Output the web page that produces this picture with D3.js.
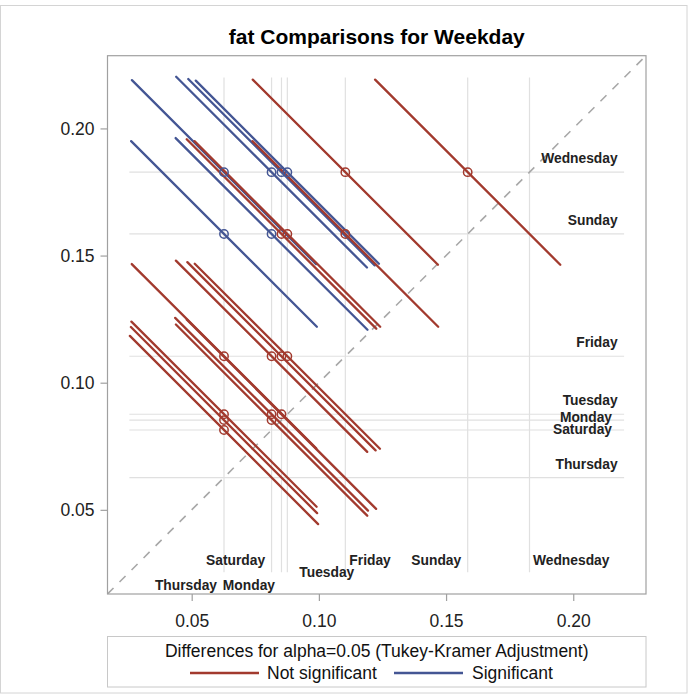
<!DOCTYPE html>
<html>
<head>
<meta charset="utf-8">
<script src="https://cdn.jsdelivr.net/npm/d3@7"></script>
<style>
  html, body { margin: 0; padding: 0; background: #fff; }
  svg { display: block; font-family: "Liberation Sans", Arial, sans-serif; }
</style>
</head>
<body>
<svg id="chart" width="688" height="694"></svg>
<script>
// LS means of fat by weekday, sorted ascending
const days    = ["Thursday", "Saturday", "Monday", "Tuesday", "Friday", "Sunday", "Wednesday"];
const lsmeans = [0.0627, 0.0814, 0.0853, 0.0876, 0.1104, 0.1585, 0.1828];

// Pairwise comparisons: index of the lower mean, index of the higher mean,
// and the Tukey-Kramer half-width of the confidence interval for the difference
const pairLow    = [0, 0, 0, 0, 0, 0, 1, 1, 1, 1, 1, 2, 2, 2, 2, 3, 3, 3, 4, 4, 5];
const pairHigh   = [1, 2, 3, 4, 5, 6, 2, 3, 4, 5, 6, 3, 4, 5, 6, 4, 5, 6, 5, 6, 6];
const ciHalfWidth = [0.0740, 0.0732, 0.0728, 0.0725, 0.0730, 0.0724,
                     0.0752, 0.0758, 0.0752, 0.0754, 0.0750,
                     0.0744, 0.0740, 0.0745, 0.0733,
                     0.0728, 0.0730, 0.0720,
                     0.0730, 0.0728,
                     0.0728];

const tickValues = [0.05, 0.10, 0.15, 0.20];

const titleText  = "fat Comparisons for Weekday";
const legendTitle = "Differences for alpha=0.05 (Tukey-Kramer Adjustment)";
const legendNames = ["Not significant", "Significant"];

// ---- layout and style ----
const RED = "#A23A2E", BLUE = "#445694";
const frame = { left: 107.5, right: 646, top: 55.7, bottom: 594 };
const domain = [0.0169, 0.2286];
const refRange = [0.0255, 0.2200];

// label placement for the mean reference lines
const rightLabelAdjust = { Monday: { dx: -5.6, dy: 10.5 }, Saturday: { dx: -5.6, dy: 13.5 } };
const bottomLabelLayout = {
  Thursday:  { anchor: "end",   dx: -7,   base: 590 },
  Saturday:  { anchor: "end",   dx: -6.5, base: 565 },
  Monday:    { anchor: "end",   dx: -6.5, base: 590 },
  Tuesday:   { anchor: "start", dx: 12,   base: 577 },
  Friday:    { anchor: "start", dx: 4,    base: 565 },
  Sunday:    { anchor: "end",   dx: -6.5, base: 565 },
  Wednesday: { anchor: "start", dx: 3.5,  base: 565 }
};

const svg = d3.select("#chart");

// outer border
svg.append("rect").attr("x", 0.5).attr("y", 5.5).attr("width", 686.5).attr("height", 687.5)
  .attr("fill", "none").attr("stroke", "#d4d4d4");

const x = d3.scaleLinear().domain(domain).range([frame.left, frame.right]);
const y = d3.scaleLinear().domain(domain).range([frame.bottom, frame.top]);

// title
svg.append("text")
  .attr("x", (frame.left + frame.right) / 2).attr("y", 44)
  .attr("text-anchor", "middle")
  .attr("font-size", 21).attr("font-weight", "bold").attr("fill", "#000")
  .text(titleText);

// clip to the plot frame
svg.append("clipPath").attr("id", "plotClip")
  .append("rect").attr("x", frame.left).attr("y", frame.top)
  .attr("width", frame.right - frame.left).attr("height", frame.bottom - frame.top);

const plot = svg.append("g").attr("clip-path", "url(#plotClip)");

// reference lines at each mean
plot.selectAll("line.vref").data(lsmeans).join("line")
  .attr("class", "vref")
  .attr("x1", d => x(d)).attr("x2", d => x(d))
  .attr("y1", y(refRange[0])).attr("y2", y(refRange[1]))
  .attr("stroke", "#e0e0e0").attr("stroke-width", 1.2);
plot.selectAll("line.href").data(lsmeans).join("line")
  .attr("class", "href")
  .attr("y1", d => y(d)).attr("y2", d => y(d))
  .attr("x1", x(refRange[0])).attr("x2", x(refRange[1]))
  .attr("stroke", "#e0e0e0").attr("stroke-width", 1.2);

// diagonal line of equality
plot.append("line")
  .attr("x1", x(domain[0])).attr("y1", y(domain[0]))
  .attr("x2", x(domain[1])).attr("y2", y(domain[1]))
  .attr("stroke", "#a8a8a8").attr("stroke-width", 1.6)
  .attr("stroke-dasharray", "8.5,8.5");

// comparison segments
const pairs = pairLow.map((lo, i) => {
  const mx = lsmeans[lo], my = lsmeans[pairHigh[i]];
  const hw = ciHalfWidth[i];
  return { mx, my, h: hw / 2, sig: (my - mx) > hw };
});

plot.selectAll("line.diff").data(pairs).join("line")
  .attr("class", "diff")
  .attr("x1", d => x(d.mx - d.h)).attr("y1", d => y(d.my + d.h))
  .attr("x2", d => x(d.mx + d.h)).attr("y2", d => y(d.my - d.h))
  .attr("stroke", d => d.sig ? BLUE : RED)
  .attr("stroke-width", 2.3).attr("stroke-linecap", "round");

plot.selectAll("circle.ctr").data(pairs).join("circle")
  .attr("class", "ctr")
  .attr("cx", d => x(d.mx)).attr("cy", d => y(d.my)).attr("r", 4.2)
  .attr("fill", "none").attr("stroke", d => d.sig ? BLUE : RED).attr("stroke-width", 1.5);

// mean labels on the right
const labelFont = 13.8;
svg.append("g").selectAll("text").data(days).join("text")
  .attr("x", (d) => x(refRange[1]) - 6.5 + ((rightLabelAdjust[d] || {}).dx || 0))
  .attr("y", (d, i) => y(lsmeans[i]) - 9 + ((rightLabelAdjust[d] || {}).dy || 0))
  .attr("text-anchor", "end").attr("font-size", labelFont).attr("font-weight", "bold")
  .attr("fill", "#222")
  .text(d => d);

// mean labels along the bottom
svg.append("g").selectAll("text").data(days).join("text")
  .attr("x", (d, i) => x(lsmeans[i]) + bottomLabelLayout[d].dx)
  .attr("y", d => bottomLabelLayout[d].base)
  .attr("text-anchor", d => bottomLabelLayout[d].anchor)
  .attr("font-size", labelFont).attr("font-weight", "bold").attr("fill", "#222")
  .text(d => d);

// frame
svg.append("rect")
  .attr("x", frame.left).attr("y", frame.top)
  .attr("width", frame.right - frame.left).attr("height", frame.bottom - frame.top)
  .attr("fill", "none").attr("stroke", "#a0a0a0").attr("stroke-width", 1.2);

// axes
const fmt = d3.format(".2f");
const xAxis = svg.append("g").attr("transform", `translate(0,${frame.bottom})`)
  .call(d3.axisBottom(x).tickValues(tickValues).tickFormat(fmt).tickSize(7).tickPadding(14));
const yAxis = svg.append("g").attr("transform", `translate(${frame.left},0)`)
  .call(d3.axisLeft(y).tickValues(tickValues).tickFormat(fmt).tickSize(7).tickPadding(6));
[xAxis, yAxis].forEach(g => {
  g.select(".domain").remove();
  g.selectAll(".tick line").attr("stroke", "#a0a0a0").attr("stroke-width", 1.2);
  g.selectAll(".tick text").attr("font-size", 17.5).attr("fill", "#222")
    .attr("font-family", "Liberation Sans, Arial, sans-serif");
});

// legend
const lg = svg.append("g");
lg.append("rect").attr("x", frame.left).attr("y", 636.5)
  .attr("width", frame.right - frame.left).attr("height", 50.5)
  .attr("fill", "none").attr("stroke", "#c8c8c8").attr("stroke-width", 1);
lg.append("text").attr("x", (frame.left + frame.right) / 2).attr("y", 657)
  .attr("text-anchor", "middle").attr("font-size", 17.5).attr("fill", "#111")
  .text(legendTitle);
const legendItems = [
  { name: legendNames[0], color: RED,  x1: 190, x2: 259, tx: 267 },
  { name: legendNames[1], color: BLUE, x1: 394, x2: 463, tx: 472 }
];
legendItems.forEach(it => {
  lg.append("line").attr("x1", it.x1).attr("x2", it.x2).attr("y1", 673).attr("y2", 673)
    .attr("stroke", it.color).attr("stroke-width", 2.3);
  lg.append("text").attr("x", it.tx).attr("y", 679).attr("font-size", 17.5).attr("fill", "#111")
    .text(it.name);
});
</script>
</body>
</html>
